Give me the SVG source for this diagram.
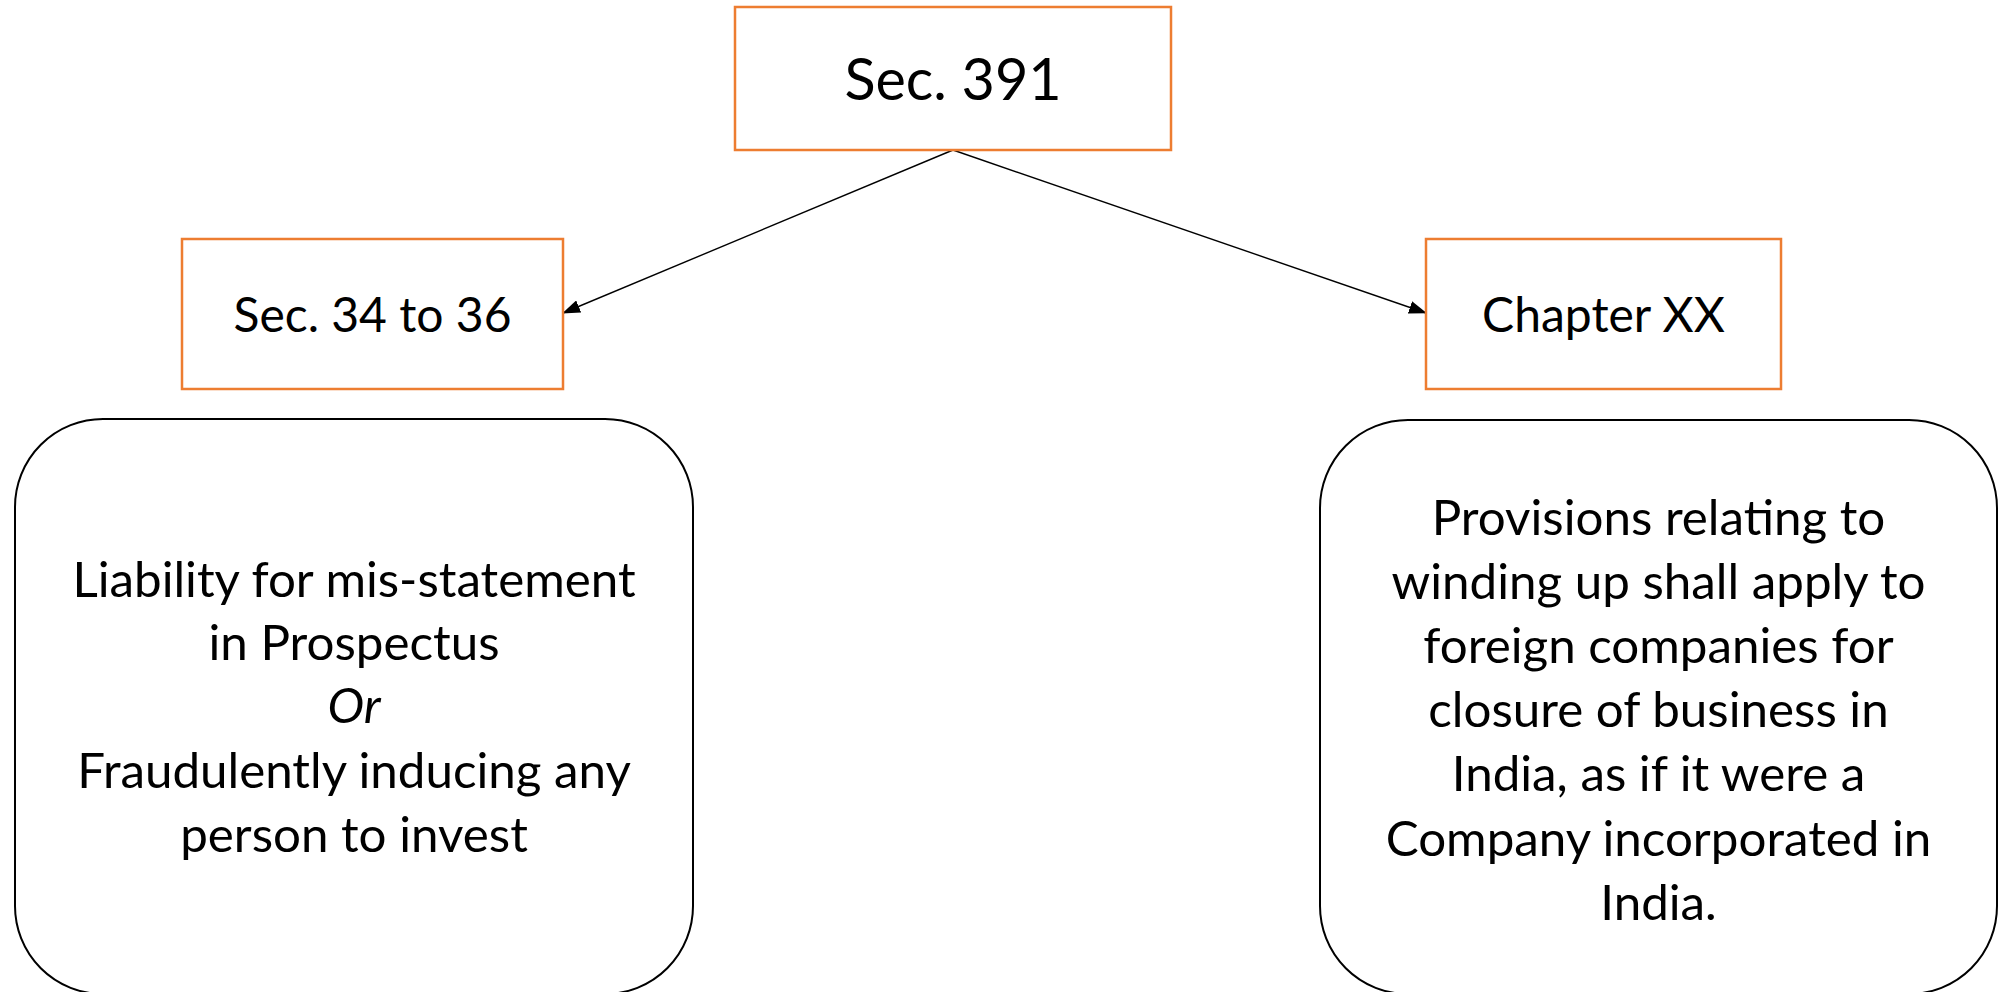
<svg xmlns="http://www.w3.org/2000/svg" width="2000" height="992" viewBox="0 0 2000 992">
  <defs>
    <marker id="arrow" markerWidth="18" markerHeight="13" refX="17" refY="6.5" orient="auto" markerUnits="userSpaceOnUse">
      <path d="M0,0 L18,6.5 L0,13 Z" fill="#000"/>
    </marker>
    <style>
      .sec { fill: #ffffff; stroke: #ED7D31; stroke-width: 2.5; }
      .card { fill: #ffffff; stroke: #000000; stroke-width: 2; }
      .conn { stroke: #000000; stroke-width: 1.4; fill: none; }
      text { font-family: Lato, "Open Sans", "Liberation Sans", sans-serif; fill: #000000; text-anchor: middle; }
      .big { font-size: 57.5px; }
      .mid { font-size: 48px; }
      .body { font-size: 49.3px; }
      .it { font-style: italic; }
    </style>
  </defs>

  <rect width="2000" height="992" fill="#ffffff"/>

  <!-- connectors from the section heading to its two branches -->
  <g id="connectors">
    <line class="conn" x1="953" y1="150" x2="563" y2="313" marker-end="url(#arrow)"/>
    <line class="conn" x1="953" y1="150" x2="1426" y2="313" marker-end="url(#arrow)"/>
  </g>

  <g id="sec391">
    <rect class="sec" x="735" y="7" width="436" height="143"/>
    <text class="big" x="953" y="100">Sec. 391</text>
  </g>

  <g id="sec34to36">
    <rect class="sec" x="182" y="239" width="381" height="150"/>
    <text class="mid" x="372.5" y="332">Sec. 34 to 36</text>
  </g>

  <g id="chapterXX">
    <rect class="sec" x="1426" y="239" width="355" height="150"/>
    <text class="mid" x="1603.5" y="332">Chapter XX</text>
  </g>

  <g id="liability">
    <rect class="card" x="15" y="419" width="678" height="575" rx="88" ry="88"/>
    <text class="body" x="354" y="597">Liability for mis-statement</text>
    <text class="body" x="354" y="660">in Prospectus</text>
    <text class="body it" x="354" y="723">Or</text>
    <text class="body" x="354" y="788">Fraudulently inducing any</text>
    <text class="body" x="354" y="852">person to invest</text>
  </g>

  <g id="winding-up">
    <rect class="card" x="1320" y="420" width="677" height="574" rx="88" ry="88"/>
    <text class="body" x="1658.5" y="535">Provisions relating to</text>
    <text class="body" x="1658.5" y="599">winding up shall apply to</text>
    <text class="body" x="1658.5" y="663">foreign companies for</text>
    <text class="body" x="1658.5" y="727">closure of business in</text>
    <text class="body" x="1658.5" y="791">India, as if it were a</text>
    <text class="body" x="1658.5" y="856">Company incorporated in</text>
    <text class="body" x="1658.5" y="920">India.</text>
  </g>
</svg>
